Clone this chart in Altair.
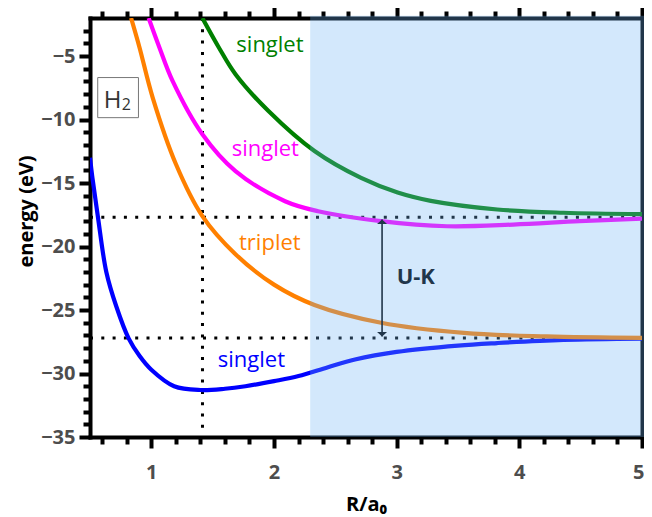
import altair as alt
import pandas as pd

# ---- curve data ----
blue_R = [0.5, 0.52, 0.565, 0.633, 0.714, 0.816, 0.903, 1.0, 1.186, 1.4, 1.6, 1.767, 2.0, 2.2, 2.44, 2.66, 3.0, 3.5, 3.82, 4.36, 5.0]
blue_E = [-13.0, -14.6, -17.7, -22.0, -24.7, -27.25, -28.6, -29.7, -31.0, -31.3, -31.2, -31.0, -30.6, -30.2, -29.5, -28.9, -28.3, -27.8, -27.6, -27.35, -27.25]

orange_R = [0.835, 0.903, 1.011, 1.2, 1.416, 1.686, 2.0, 2.33, 2.873, 3.548, 4.223, 5.0]
orange_E = [-2.0, -4.3, -8.27, -13.5, -17.6, -20.6, -23.0, -24.6, -26.0, -26.8, -27.08, -27.2]

magenta_R = [0.978, 1.065, 1.173, 1.416, 1.686, 2.09, 2.36, 2.873, 3.41, 3.95, 4.49, 5.0]
magenta_E = [-2.0, -4.3, -6.96, -11.16, -14.06, -16.43, -17.22, -18.0, -18.4, -18.27, -18.0, -17.8]

green_R = [1.416, 1.549, 1.686, 1.955, 2.33, 2.71, 3.008, 3.278, 3.82, 4.36, 5.0]
green_E = [-2.0, -4.3, -6.43, -9.33, -12.48, -14.6, -15.75, -16.4, -17.08, -17.34, -17.45]

series_colors = ["#0000ff", "#ff8000", "#ff00ff", "#008000"]

# reference lines
hline_E = [-17.7, -27.2]
vline_R = [1.417]
arrow_R = [2.881]
arrow_top_E = [-17.87]
arrow_bot_E = [-27.08]

# shaded region
shade_R = [2.295, 5.02]
shade_E = [-35.0, -1.83]

# curve labels
label_text = ["singlet", "singlet", "triplet", "singlet"]
label_R = [1.967, 1.929, 1.966, 1.816]
label_E = [-4.69, -12.88, -20.24, -29.5]
label_color = ["#008000", "#ff00ff", "#ff8000", "#0000ff"]

# axis ticks
x_ticks = [0.6, 0.8, 1.0, 1.2, 1.4, 1.6, 1.8, 2.0, 2.2, 2.4, 2.6, 2.8, 3.0, 3.2, 3.4, 3.6, 3.8, 4.0,
           4.2, 4.4, 4.6, 4.8, 5.0]
y_ticks = [-35, -34, -33, -32, -31, -30, -29, -28, -27, -26, -25, -24, -23, -22, -21, -20, -19, -18,
           -17, -16, -15, -14, -13, -12, -11, -10, -9, -8, -7, -6, -5, -4, -3]

FONT = "Open Sans"

xs = alt.Scale(domain=[0.5, 5], nice=False, zero=False)
ys = alt.Scale(domain=[-35, -2], nice=False, zero=False)

x_major = "abs(datum.value - round(datum.value)) < 1e-6"
y_major = "datum.value % 5 === 0"


def axis_common(test, orient, labels):
    d = dict(
        orient=orient,
        domainColor="black", domainWidth=4, domainCap="square",
        tickColor="black", tickWidth=4, tickCap="butt",
        tickSize={"condition": {"test": test, "value": 11}, "value": 7},
        grid=False, labelOverlap=False,
    )
    if labels:
        d.update(
            labelExpr=f"{test} ? format(datum.value, 'd') : ''",
            labelFont=FONT, labelFontSize=20, labelFontWeight="bold", labelColor="#4d4d4d",
        )
    else:
        d.update(labels=False, title=None)
    return d


x_axis_bottom = alt.Axis(values=x_ticks, title="R/a₀", titleFont=FONT, titleFontSize=20,
                         titleFontWeight="bold", titleColor="black", labelPadding=14,
                         labelFlush=True, labelFlushOffset=2,
                         titleBaseline="alphabetic", titleY=73,
                         **axis_common(x_major, "bottom", True))
y_axis_left = alt.Axis(values=y_ticks, title="energy (eV)", titleFont=FONT, titleFontSize=20,
                       titleFontWeight="bold", titleColor="black", labelPadding=4, labelFlush=False,
                       titleY=193, **axis_common(y_major, "left", True))
x_axis_top = alt.Axis(values=x_ticks, **axis_common(x_major, "top", False))
y_axis_right = alt.Axis(values=y_ticks, **axis_common(y_major, "right", False))

# ---- data frames ----
curves = pd.concat([
    pd.DataFrame({"R": blue_R, "E": blue_E, "s": "a", "c": series_colors[0]}),
    pd.DataFrame({"R": orange_R, "E": orange_E, "s": "b", "c": series_colors[1]}),
    pd.DataFrame({"R": magenta_R, "E": magenta_E, "s": "c", "c": series_colors[2]}),
    pd.DataFrame({"R": green_R, "E": green_E, "s": "d", "c": series_colors[3]}),
])

curve_layer = alt.Chart(curves).mark_line(strokeWidth=4.2, interpolate="catmull-rom", clip=True).encode(
    x=alt.X("R:Q", scale=xs, axis=x_axis_bottom),
    y=alt.Y("E:Q", scale=ys, axis=y_axis_left),
    color=alt.Color("c:N", scale=None),
    detail="s:N",
    order="R:Q",
)

dot_style = dict(color="black", strokeWidth=3, strokeDash=[3, 8.3], strokeCap="butt")

vline = alt.Chart(pd.DataFrame({"R": vline_R, "top": [-2.0], "bot": [-35.0]})).mark_rule(**dot_style).encode(
    x=alt.X("R:Q", scale=xs, axis=x_axis_top),
    y=alt.Y("top:Q", scale=ys, axis=y_axis_right),
    y2="bot:Q",
)

hline = alt.Chart(pd.DataFrame({"E": hline_E, "x0": [0.5, 0.5], "x1": [5.0, 5.0]})).mark_rule(**dot_style).encode(
    x=alt.X("x0:Q", scale=xs, axis=None),
    x2="x1:Q",
    y=alt.Y("E:Q", scale=ys, axis=None),
)

arrow = alt.Chart(pd.DataFrame({"R": arrow_R, "a": arrow_top_E, "b": arrow_bot_E})).mark_rule(
    color="black", strokeWidth=1.6).encode(
    x=alt.X("R:Q", scale=xs, axis=None),
    y=alt.Y("a:Q", scale=ys, axis=None),
    y2="b:Q",
)

head_top = alt.Chart(pd.DataFrame({"R": arrow_R, "E": arrow_top_E})).mark_point(
    shape="M0,0L-1,0.9L1,0.9Z", size=100, filled=True, color="black", opacity=1).encode(
    x=alt.X("R:Q", scale=xs, axis=None), y=alt.Y("E:Q", scale=ys, axis=None))
head_bot = alt.Chart(pd.DataFrame({"R": arrow_R, "E": arrow_bot_E})).mark_point(
    shape="M0,0L-1,-0.9L1,-0.9Z", size=100, filled=True, color="black", opacity=1).encode(
    x=alt.X("R:Q", scale=xs, axis=None), y=alt.Y("E:Q", scale=ys, axis=None))

uk = alt.Chart(pd.DataFrame({"R": [3.0], "E": [-22.92], "t": ["U-K"]})).mark_text(
    font=FONT, fontSize=22, fontWeight="bold", color="black", align="left", baseline="alphabetic").encode(
    x=alt.X("R:Q", scale=xs, axis=None), y=alt.Y("E:Q", scale=ys, axis=None), text="t:N")

shade = alt.Chart(pd.DataFrame({"x0": [shade_R[0]], "x1": [shade_R[1]], "y0": [shade_E[0]], "y1": [shade_E[1]]})).mark_rect(
    color="#6cb2f5", opacity=0.3).encode(
    x=alt.X("x0:Q", scale=xs, axis=None), x2="x1:Q",
    y=alt.Y("y0:Q", scale=ys, axis=None), y2="y1:Q")

labels = alt.Chart(pd.DataFrame({"R": label_R, "E": label_E, "t": label_text, "c": label_color})).mark_text(
    font=FONT, fontSize=22, align="center", baseline="alphabetic").encode(
    x=alt.X("R:Q", scale=xs, axis=None), y=alt.Y("E:Q", scale=ys, axis=None),
    text="t:N", color=alt.Color("c:N", scale=None))

box = alt.Chart(pd.DataFrame({"x0": [0.563], "x1": [0.895], "y0": [-6.69], "y1": [-9.85]})).mark_rect(
    fill="white", stroke="#777777", strokeWidth=1).encode(
    x=alt.X("x0:Q", scale=xs, axis=None), x2="x1:Q",
    y=alt.Y("y0:Q", scale=ys, axis=None), y2="y1:Q")

h_text = alt.Chart(pd.DataFrame({"R": [0.612], "E": [-9.06], "t": ["H"]})).mark_text(
    font=FONT, fontSize=24, color="#333333", align="left", baseline="alphabetic").encode(
    x=alt.X("R:Q", scale=xs, axis=None), y=alt.Y("E:Q", scale=ys, axis=None), text="t:N")
sub_text = alt.Chart(pd.DataFrame({"R": [0.758], "E": [-9.27], "t": ["2"]})).mark_text(
    font=FONT, fontSize=16, color="#333333", align="left", baseline="alphabetic").encode(
    x=alt.X("R:Q", scale=xs, axis=None), y=alt.Y("E:Q", scale=ys, axis=None), text="t:N")

chart = alt.layer(
    vline, hline, curve_layer, arrow, head_top, head_bot, uk, shade, labels, box, h_text, sub_text
).resolve_scale(x="shared", y="shared").resolve_axis(x="independent", y="independent").properties(
    width=552, height=419,
    autosize=alt.AutoSizeParams(type="none"),
    padding={"left": 82, "top": 10, "right": 2, "bottom": 80},
).configure_view(stroke=None)

chart.save("out.html", embed_options={"renderer": "svg", "actions": False})
